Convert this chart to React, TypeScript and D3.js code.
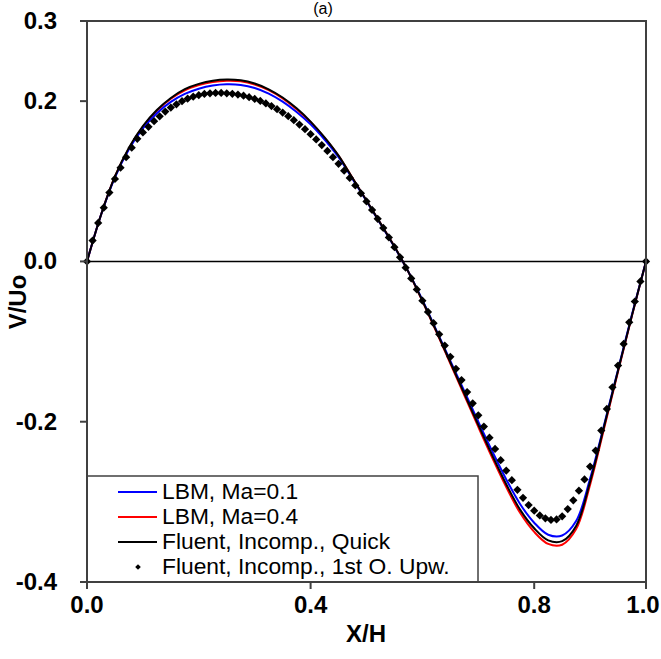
import React from 'react';
import * as d3 from 'd3';

// x positions of the three solver lines
const lineX = [0, 0.025, 0.05, 0.075, 0.1, 0.125, 0.15, 0.175, 0.2, 0.225, 0.25, 0.275, 0.3, 0.325, 0.35, 0.375, 0.4, 0.425, 0.45, 0.475, 0.5, 0.525, 0.55, 0.575, 0.6, 0.625, 0.65, 0.675, 0.7, 0.725, 0.75, 0.775, 0.8, 0.825, 0.85, 0.875, 0.9, 0.925, 0.95, 0.975, 1];

const lbm01 = [0, 0.058, 0.105, 0.140, 0.166, 0.185, 0.199, 0.209, 0.2155, 0.2195, 0.221, 0.2202, 0.2165, 0.2095, 0.1995, 0.1865, 0.171, 0.152, 0.130, 0.103, 0.0755, 0.047, 0.018, -0.013, -0.048, -0.086, -0.124, -0.162, -0.2, -0.237, -0.272, -0.303, -0.326, -0.341, -0.342, -0.324, -0.271, -0.204, -0.135, -0.066, 0];

const lbm04 = [0, 0.058, 0.106, 0.141, 0.168, 0.188, 0.203, 0.2135, 0.22, 0.224, 0.2255, 0.2248, 0.2208, 0.2138, 0.2035, 0.190, 0.1738, 0.1542, 0.1318, 0.104, 0.0758, 0.0475, 0.0185, -0.0132, -0.0495, -0.088, -0.1275, -0.167, -0.2065, -0.245, -0.2815, -0.314, -0.3375, -0.3525, -0.3535, -0.334, -0.2785, -0.2085, -0.1375, -0.0675, 0];

const quick = [0, 0.058, 0.106, 0.142, 0.169, 0.189, 0.204, 0.215, 0.2215, 0.2255, 0.227, 0.226, 0.222, 0.2148, 0.2045, 0.191, 0.1745, 0.1548, 0.132, 0.104, 0.076, 0.0475, 0.0185, -0.013, -0.049, -0.087, -0.126, -0.165, -0.204, -0.242, -0.278, -0.31, -0.333, -0.348, -0.349, -0.33, -0.275, -0.206, -0.136, -0.067, 0];

// 1st order upwind, one value every 0.01 in X/H
const upwind = [0, 0.026, 0.048, 0.067, 0.086, 0.103, 0.117, 0.130, 0.142, 0.153,
  0.161, 0.168, 0.175, 0.181, 0.187, 0.192, 0.196, 0.200, 0.203, 0.2055,
  0.2075, 0.209, 0.2098, 0.2102, 0.2102, 0.2098, 0.2092, 0.2082, 0.2068, 0.205,
  0.2028, 0.2002, 0.1972, 0.1938, 0.190, 0.1858, 0.1812, 0.1762, 0.1708, 0.165,
  0.1588, 0.1522, 0.1452, 0.1378, 0.130, 0.1218, 0.1132, 0.1042, 0.0948, 0.085,
  0.0748, 0.0642, 0.0532, 0.0418, 0.030, 0.0178, 0.0052, -0.0078, -0.0212, -0.035,
  -0.049, -0.063, -0.077, -0.091, -0.105, -0.119, -0.134, -0.148, -0.163, -0.177,
  -0.192, -0.206, -0.220, -0.234, -0.248, -0.261, -0.273, -0.285, -0.295, -0.304,
  -0.311, -0.317, -0.3205, -0.3225, -0.322, -0.318, -0.309, -0.298, -0.286, -0.272,
  -0.256, -0.236, -0.211, -0.184, -0.157, -0.130, -0.103, -0.076, -0.050, -0.025, 0];

const xTicks = [0, 0.4, 0.8, 1.0];
const yTicks = [0.3, 0.2, 0, -0.2, -0.4];

const legendItems = [
  { label: 'LBM, Ma=0.1', color: '#0000ff', kind: 'line' },
  { label: 'LBM, Ma=0.4', color: '#ff0000', kind: 'line' },
  { label: 'Fluent, Incomp., Quick', color: '#000000', kind: 'line' },
  { label: 'Fluent, Incomp., 1st O. Upw.', color: '#000000', kind: 'dot' },
];

export default function App() {
  const width = 661;
  const height = 659;
  const left = 87, right = 646, top = 21, bottom = 582;

  const x = d3.scaleLinear().domain([0, 1]).range([left, right]);
  const y = d3.scaleLinear().domain([-0.4, 0.3]).range([bottom, top]);

  const line = d3.line<number>()
    .x((d, i) => x(lineX[i]))
    .y(d => y(d))
    .curve(d3.curveCatmullRom);

  const diamond = d3.symbol(d3.symbolSquare, 34)();
  const axisColor = '#404040';
  const font = 'Liberation Sans, Arial, sans-serif';

  const series = [
    { v: lbm04, color: '#ff0000' },
    { v: lbm01, color: '#0000ff' },
    { v: quick, color: '#000000' },
  ];

  return (
    <svg width={width} height={height} style={{ position: 'absolute', left: 0, top: 0, background: '#fff' }}>
      <rect width={width} height={height} fill="#fff" />
      <text x={323} y={14} textAnchor="middle" fontFamily={font} fontSize={16}>(a)</text>

      {/* zero line */}
      <line x1={left} x2={right} y1={y(0)} y2={y(0)} stroke="#000" strokeWidth={1.5} />

      {series.map((s, i) => (
        <path key={i} d={line(s.v) || ''} fill="none" stroke={s.color} strokeWidth={2} />
      ))}

      {upwind.map((v, i) => (
        <path key={i} d={diamond} transform={`translate(${x(i / 100)},${y(v)}) rotate(45)`} fill="#000" />
      ))}

      {/* legend */}
      <rect x={left} y={476} width={478 - left} height={bottom - 476} fill="#fff" stroke={axisColor} strokeWidth={1.5} />
      {legendItems.map((d, i) => {
        const base = 499 + i * 25;
        return (
          <g key={d.label}>
            {d.kind === 'line'
              ? <line x1={118} x2={157} y1={base - 7} y2={base - 7} stroke={d.color} strokeWidth={2} />
              : <path d={d3.symbol(d3.symbolSquare, 16)() || ''} transform={`translate(138,${base - 7}) rotate(45)`} fill="#000" />}
            <text x={162} y={base} fontFamily={font} fontSize={22.8} fill="#000">{d.label}</text>
          </g>
        );
      })}

      {/* frame */}
      <rect x={left} y={top} width={right - left} height={bottom - top} fill="none" stroke={axisColor} strokeWidth={2} />

      {yTicks.map(t => (
        <g key={t}>
          <line x1={left - 7} x2={left} y1={y(t)} y2={y(t)} stroke={axisColor} strokeWidth={2} />
          <text x={57} y={y(t) + 8} textAnchor="end" fontFamily={font} fontWeight="bold" fontSize={24}>{t.toFixed(1)}</text>
        </g>
      ))}
      {xTicks.map(t => (
        <g key={t}>
          <line x1={x(t)} x2={x(t)} y1={bottom} y2={bottom + 7} stroke={axisColor} strokeWidth={2} />
          <text x={Math.min(x(t), 643)} y={613} textAnchor="middle" fontFamily={font} fontWeight="bold" fontSize={24}>{t.toFixed(1)}</text>
        </g>
      ))}

      <text x={366} y={642} textAnchor="middle" fontFamily={font} fontWeight="bold" fontSize={24}>X/H</text>
      <text transform="translate(26,302) rotate(-90)" textAnchor="middle" fontFamily={font} fontWeight="bold" fontSize={24}>V/Uo</text>
    </svg>
  );
}
